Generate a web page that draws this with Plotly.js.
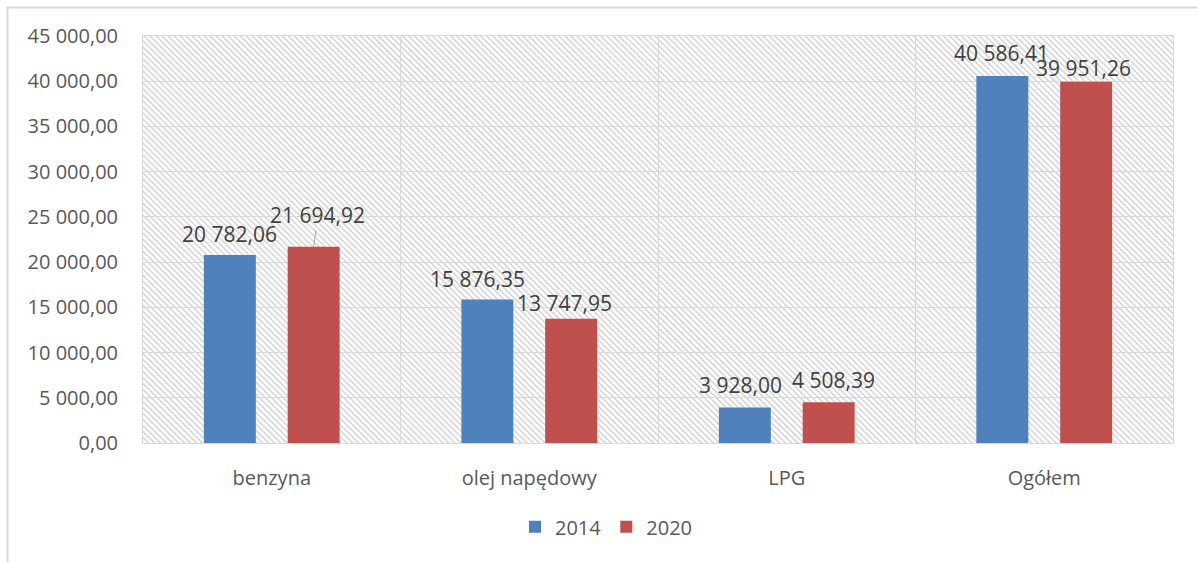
<!DOCTYPE html>
<html>
<head>
<meta charset="utf-8">
<script src="https://cdn.plot.ly/plotly-3.0.1.min.js"></script>
<style>
  html, body { margin: 0; padding: 0; background: #fff; }
  #chart { width: 1197px; height: 562px; }
</style>
</head>
<body>
<div id="chart"></div>
<script>
// ---- data ----
var categories = ['benzyna', 'olej napędowy', 'LPG', 'Ogółem'];
var series2014 = [20782.06, 15876.35, 3928.00, 40586.41];
var series2020 = [21694.92, 13747.95, 4508.39, 39951.26];
var seriesNames = ['2014', '2020'];

// ---- label placement tweaks (pixels: dx, dy above bar top) ----
var off2014 = [[0, 21], [-10, 20], [-4, 22], [-1, 23]];
var off2020 = [[4, 32], [-7, 16], [5, 22], [-3, 14]];

function fmt(v) {
  var s = v.toFixed(2).split('.');
  var i = s[0].replace(/\B(?=(\d{3})+(?!\d))/g, ' ');
  return i + ',' + s[1];
}

var FONT = 'Open Sans, Liberation Sans, sans-serif';
var BAR_SHIFT = 42;

var traces = [
  { type: 'bar', name: seriesNames[0], x: categories, y: series2014,
    marker: { color: '#4F81BD' }, hoverinfo: 'none' },
  { type: 'bar', name: seriesNames[1], x: categories, y: series2020,
    marker: { color: '#C0504D' }, hoverinfo: 'none' }
];

var annotations = [];
function addLabels(vals, offs, sign, leader) {
  vals.forEach(function (v, i) {
    var o = offs[i];
    if (leader && i === 0) {
      annotations.push({
        x: categories[i], y: v, xref: 'x', yref: 'y',
        text: fmt(v), showarrow: true, arrowhead: 0, arrowwidth: 1,
        arrowcolor: '#a6a6a6', ax: o[0], ay: -o[1], standoff: 0,
        xshift: sign * BAR_SHIFT,
        font: { family: FONT, size: 21, color: '#404040' }
      });
    } else {
      annotations.push({
        x: categories[i], y: v, xref: 'x', yref: 'y',
        text: fmt(v), showarrow: false,
        xshift: sign * BAR_SHIFT + o[0], yshift: o[1],
        xanchor: 'center', yanchor: 'middle',
        font: { family: FONT, size: 21, color: '#404040' }
      });
    }
  });
}
addLabels(series2014, off2014, -1, false);
addLabels(series2020, off2020, 1, true);

// hatch background for the plot area
var W = 1030, H = 407;
var svg = '<svg xmlns="http://www.w3.org/2000/svg" width="' + W + '" height="' + H +
  '" viewBox="0 0 ' + W + ' ' + H + '" preserveAspectRatio="none">' +
  '<defs><pattern id="h" patternUnits="userSpaceOnUse" width="4.25" height="10" patternTransform="rotate(-45)">' +
  '<rect x="0" y="0" width="1.5" height="10" fill="#d4d4d4"/></pattern></defs>' +
  '<rect width="100%" height="100%" fill="#ffffff"/>' +
  '<rect width="100%" height="100%" fill="url(#h)"/></svg>';
var hatch = 'data:image/svg+xml;base64,' + btoa(svg);

var layout = {
  width: 1197, height: 562,
  margin: { l: 143, r: 24, t: 36, b: 119 },
  paper_bgcolor: '#ffffff',
  plot_bgcolor: '#ffffff',
  separators: ', ',
  barmode: 'group',
  bargap: 0.349,
  bargroupgap: 0.38,
  showlegend: true,
  legend: {
    orientation: 'h', x: 0.45, xanchor: 'center', y: -0.206, yanchor: 'middle',
    font: { family: FONT, size: 20, color: '#595959' },
    itemwidth: 30, traceorder: 'normal'
  },
  xaxis: {
    type: 'category',
    tickson: 'boundaries', ticks: '', showgrid: true, gridcolor: '#d9d9d9', gridwidth: 1,
    showline: true, linecolor: '#d9d9d9', linewidth: 1, mirror: true,
    tickfont: { family: FONT, size: 20, color: '#595959' },
    ticklabelstandoff: 17, fixedrange: true
  },
  yaxis: {
    range: [0, 45000], dtick: 5000, tick0: 0,
    tickformat: ',.2f',
    showgrid: true, gridcolor: '#d9d9d9', gridwidth: 1,
    zeroline: true, zerolinecolor: '#d9d9d9', zerolinewidth: 1,
    showline: true, linecolor: '#d9d9d9', linewidth: 1, mirror: true,
    ticks: '', tickfont: { family: FONT, size: 20, color: '#595959' },
    ticklabelstandoff: 20, fixedrange: true
  },
  images: [{
    source: hatch, xref: 'paper', yref: 'paper', x: 0, y: 1, sizex: 1, sizey: 1,
    xanchor: 'left', yanchor: 'top', sizing: 'stretch', layer: 'below'
  }],
  shapes: [{
    type: 'path', xref: 'paper', yref: 'paper',
    path: 'M ' + ((7.5 - 143) / 1030) + ' ' + ((443 - 600) / 407) +
          ' L ' + ((7.5 - 143) / 1030) + ' ' + ((443 - 7.5) / 407) +
          ' L ' + ((1230 - 143) / 1030) + ' ' + ((443 - 7.5) / 407),
    line: { color: '#d9d9d9', width: 2 }
  }],
  annotations: annotations
};

Plotly.newPlot('chart', traces, layout, { displayModeBar: false, staticPlot: true });
</script>
</body>
</html>
